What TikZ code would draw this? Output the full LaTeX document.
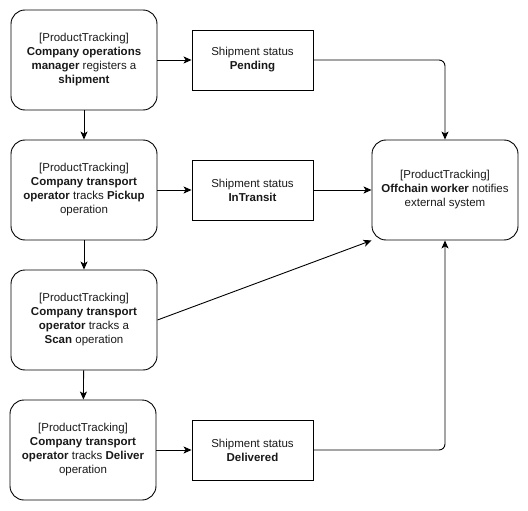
\documentclass[tikz,border=0pt]{standalone}
\usepackage{fontspec}
\setmainfont{Liberation Sans}
\usetikzlibrary{arrows.meta}
\begin{document}
\begin{tikzpicture}[x=1pt,y=1pt,
  every node/.style={font=\fontsize{11.5}{14}\selectfont, align=center, text=black!90, inner sep=0pt},
  actbox/.style={draw, line width=0.9pt, rounded corners=14pt, minimum width=146pt, minimum height=100pt},
  statbox/.style={draw, line width=0.9pt, minimum width=121pt, minimum height=60pt},
  conn/.style={line width=0.9pt, -{Stealth[length=8pt,width=7pt,inset=2pt]}}
]
\useasboundingbox (0,0) rectangle (528,-511);
\node[actbox] (a1) at (84,-60) {[ProductTracking]\\\textbf{Company operations}\\\textbf{manager} registers a\\\textbf{shipment}};
\node[actbox] (a2) at (84,-190) {[ProductTracking]\\\textbf{Company transport}\\\textbf{operator} tracks \textbf{Pickup}\\operation};
\node[actbox] (a3) at (84,-320) {[ProductTracking]\\\textbf{Company transport}\\\textbf{operator} tracks a\\\textbf{Scan} operation};
\node[actbox] (a4) at (83,-450) {[ProductTracking]\\\textbf{Company transport}\\\textbf{operator} tracks \textbf{Deliver}\\operation};
\node[statbox] (s1) at (252.5,-60) {Shipment status\\\textbf{Pending}};
\node[statbox] (s2) at (252.5,-190) {Shipment status\\\textbf{InTransit}};
\node[statbox] (s3) at (252.5,-450) {Shipment status\\\textbf{Delivered}};
\node[actbox] (ext) at (445,-190) {[ProductTracking]\\\textbf{Offchain worker} notifies\\external system};
\draw[conn] (a1) -- (a2);
\draw[conn] (a2) -- (a3);
\draw[conn] (a3) -- (a4);
\draw[conn] (a1) -- (s1);
\draw[conn] (a2) -- (s2);
\draw[conn] (a4) -- (s3);
\draw[conn] (s2) -- (ext);
\draw[conn, rounded corners=6pt] (s1.east) -| (ext.north);
\draw[conn, rounded corners=6pt] (s3.east) -| (ext.south);
\draw[conn] (a3.east) -- (ext.south west);
\end{tikzpicture}
\end{document}
